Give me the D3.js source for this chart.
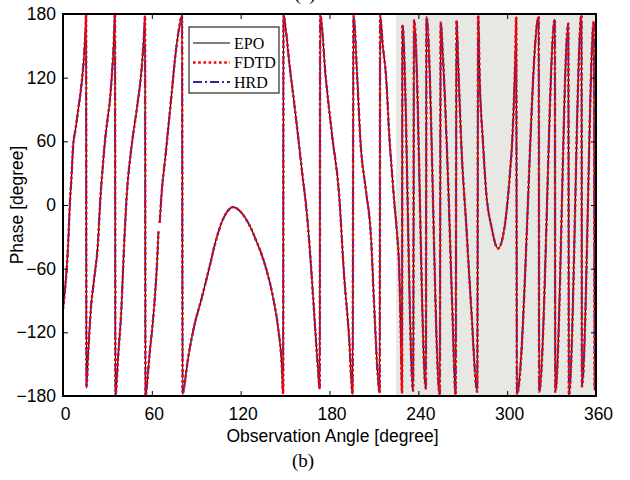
<!DOCTYPE html>
<html>
<head>
<meta charset="utf-8">
<script src="https://cdn.jsdelivr.net/npm/d3@7"></script>
<style>
body { margin: 0; background: #fff; }
svg { display: block; }
</style>
</head>
<body>
<div id="chart"></div>
<script>
// Data:
//------------------------------------
// observation angle [degree] and wrapped phase [degree]
// (EPO, FDTD and HRD overlap everywhere, so they share one trace; null = gap in the curve)
var angle = [
    0, 1.2, 2.5, 3.6, 4.6, 5.9, 6.8, 8.5, 10.3, 12.6, 14.2, 15.4, 15.6,
    15.8, 17, 19, 21, 23.6, 25.2, 26.8, 28.4, 30, 31.7, 33, 34.2, 35.1,
    35.4, 36.2, 37.1, 39.4, 41.2, 43.2, 46.3, 49.8, 53.2, 54.7, 55.4,
    55.7, 57, 58.5, 60, 62, 63.5, 64.5, 64.9, 65.3, 66.6, 68.9, 71.2, 73.4, 75.6, 77.9, 80.4,
    80.8, 82.5, 84, 88, 94, 99, 103, 107, 111, 115, 119, 123, 127, 130, 134, 138, 142, 145.5, 147.7, 148.7,
    148.9, 150.5, 153, 156, 159, 162, 164.5, 166.5, 168.5, 170.5, 172, 173.4,
    173.7, 177.4, 181.9, 186.4, 189.8, 193.2, 195.6,
    196.2, 198.7, 201, 204.5, 208, 210.3, 212.6, 213.9,
    214.2, 216, 218.2, 220.4, 222.5, 223.8, 225.5, 227.1, 228.3, 229.0,
    229.2, 236.5,
    237.1, 245.1,
    245.5, 254.5,
    255.1, 256.6, 260, 263, 265.2,
    265.8, 267, 269, 272.4, 275.8, 279.8,
    280.4, 281.4, 283.7, 285.9, 289.3, 293.8, 298.3, 301.7, 303.9, 305.7, 306.1,
    306.6, 321.3,
    321.6, 332.2,
    332.5, 341.3,
    341.7, 350.2,
    350.5, 358.6,
    359.1, 360
];
var phase = [
    -98, -82, -60, -33, 0, 30, 55, 72, 90, 115, 140, 172, 180,
    -172, -140, -95, -70, -36, 5, 35, 61, 80, 99, 122, 150, 180,
    -180, -168, -146, -99, -40, 12, 55, 90, 130, 160, 178,
    -180, -165, -140, -120, -88, -55, -25, null, -17, 11, 42, 74, 105, 137, 162, 178,
    -178, -165, -149, -118, -86, -58, -35, -17, -6, -2, -5, -12, -22, -32, -46, -64, -88, -118, -149, -178,
    179, 165, 132, 98, 62, 25, -5, -38, -78, -120, -150, -173,
    179, 121, 64, 11, -65, -124, -178,
    178, 121, 58, 15, -30, -99, -160, -177,
    178, 150, 121, 65, 25, 2, -25, -62, -130, -177,
    170, -175,
    174, -173,
    177, -179,
    172, 140, 27, -100, -179,
    174, 130, 58, -20, -99, -176,
    179, 121, 58, 11, -20, -41, -20, 27, 74, 152, 177,
    -178, 177,
    -176, 175,
    -176, 171,
    -179, 179,
    -171, 173,
    -174, -140
];
var seriesNames = ["EPO", "FDTD", "HRD"];
var xTicks = [0, 60, 120, 180, 240, 300, 360];
var yTicks = [-180, -120, -60, 0, 60, 120, 180];
var shadedAngles = [225, 360];

//------------------------------------
// layout & styles
var width = 630, height = 480;
var plot = { left: 63, right: 596, top: 14, bottom: 396 };
var lineStyle = {
    "EPO":  { color: "#000000", width: 1.2, dash: null },
    "FDTD": { color: "#ff0000", width: 2.5, dash: "2.6,2.6" },
    "HRD":  { color: "#2b2b9e", width: 1.8, dash: "9,3,2,3" }
};
var drawOrder = ["EPO", "HRD", "FDTD"];
var sansFont = "'Liberation Sans', Arial, sans-serif";
var serifFont = "'Liberation Serif', 'Times New Roman', serif";

var points = angle.map(function (a, i) { return { a: a, p: phase[i] }; });

var svg = d3.select("#chart").append("svg")
    .attr("width", width)
    .attr("height", height);

var x = d3.scaleLinear().domain([0, 360]).range([plot.left, plot.right]);
var y = d3.scaleLinear().domain([-180, 180]).range([plot.bottom, plot.top]);

svg.append("defs").append("clipPath").attr("id", "plotClip")
    .append("rect")
    .attr("x", plot.left).attr("y", plot.top)
    .attr("width", plot.right - plot.left).attr("height", plot.bottom - plot.top);

// shaded region
svg.append("rect")
    .attr("x", x(shadedAngles[0]))
    .attr("y", plot.top)
    .attr("width", x(shadedAngles[1]) - x(shadedAngles[0]))
    .attr("height", plot.bottom - plot.top)
    .attr("fill", "#e7e7e3");

// curves
var line = d3.line()
    .defined(function (d) { return d.p !== null; })
    .x(function (d) { return x(d.a); })
    .y(function (d) { return y(d.p); })
    .curve(d3.curveMonotoneX);

var curves = svg.append("g").attr("clip-path", "url(#plotClip)");
drawOrder.forEach(function (name) {
    var s = lineStyle[name];
    curves.append("path")
        .datum(points)
        .attr("d", line)
        .attr("fill", "none")
        .attr("stroke", s.color)
        .attr("stroke-width", s.width)
        .attr("stroke-dasharray", s.dash)
        .attr("stroke-linejoin", "round");
});

// axes (ticks point inward on every side)
var xAxis = svg.append("g")
    .attr("transform", "translate(0," + plot.bottom + ")")
    .call(d3.axisBottom(x).tickValues(xTicks).tickSize(-5).tickPadding(12));
xAxis.selectAll("text").attr("dx", 2);

var yAxis = svg.append("g")
    .attr("transform", "translate(" + plot.left + ",0)")
    .call(d3.axisLeft(y).tickValues(yTicks).tickSize(-5).tickPadding(7));

svg.append("g")
    .attr("transform", "translate(0," + plot.top + ")")
    .call(d3.axisTop(x).tickValues(xTicks).tickSize(-5).tickFormat(""));
svg.append("g")
    .attr("transform", "translate(" + plot.right + ",0)")
    .call(d3.axisRight(y).tickValues(yTicks).tickSize(-5).tickFormat(""));

svg.selectAll(".domain").remove();
svg.selectAll(".tick line").attr("stroke", "#000").attr("stroke-width", 1);
svg.selectAll(".tick text")
    .attr("fill", "#000")
    .style("font-family", sansFont)
    .style("font-size", "17.5px");

// frame
svg.append("rect")
    .attr("x", plot.left).attr("y", plot.top)
    .attr("width", plot.right - plot.left).attr("height", plot.bottom - plot.top)
    .attr("fill", "none")
    .attr("stroke", "#000")
    .attr("stroke-width", 2);

// axis titles
svg.append("text")
    .attr("x", (plot.left + plot.right) / 2 + 3)
    .attr("y", 442)
    .attr("text-anchor", "middle")
    .style("font-family", sansFont)
    .style("font-size", "17.5px")
    .text("Observation Angle [degree]");

svg.append("text")
    .attr("transform", "translate(23," + 205 + ") rotate(-90)")
    .attr("text-anchor", "middle")
    .style("font-family", sansFont)
    .style("font-size", "17.5px")
    .text("Phase [degree]");

// sub-figure captions ("(a)" belongs to the panel above and is cut by the page edge)
svg.append("text")
    .attr("x", 305).attr("y", 0)
    .attr("text-anchor", "middle")
    .style("font-family", serifFont)
    .style("font-size", "19px")
    .text("(a)");
svg.append("text")
    .attr("x", 303).attr("y", 467)
    .attr("text-anchor", "middle")
    .style("font-family", serifFont)
    .style("font-size", "19px")
    .text("(b)");

// legend
var legend = svg.append("g");
legend.append("rect")
    .attr("x", 189).attr("y", 27)
    .attr("width", 90).attr("height", 66)
    .attr("fill", "#fff")
    .attr("stroke", "#000")
    .attr("stroke-width", 1);

seriesNames.forEach(function (name, i) {
    var s = lineStyle[name];
    var ly = 43 + i * 19.5;
    legend.append("line")
        .attr("x1", 193).attr("x2", 230)
        .attr("y1", ly).attr("y2", ly)
        .attr("stroke", s.color)
        .attr("stroke-width", s.width)
        .attr("stroke-dasharray", s.dash);
    legend.append("text")
        .attr("x", 234).attr("y", ly)
        .attr("dy", "0.35em")
        .style("font-family", serifFont)
        .style("font-size", "16px")
        .text(name);
});
</script>
</body>
</html>
